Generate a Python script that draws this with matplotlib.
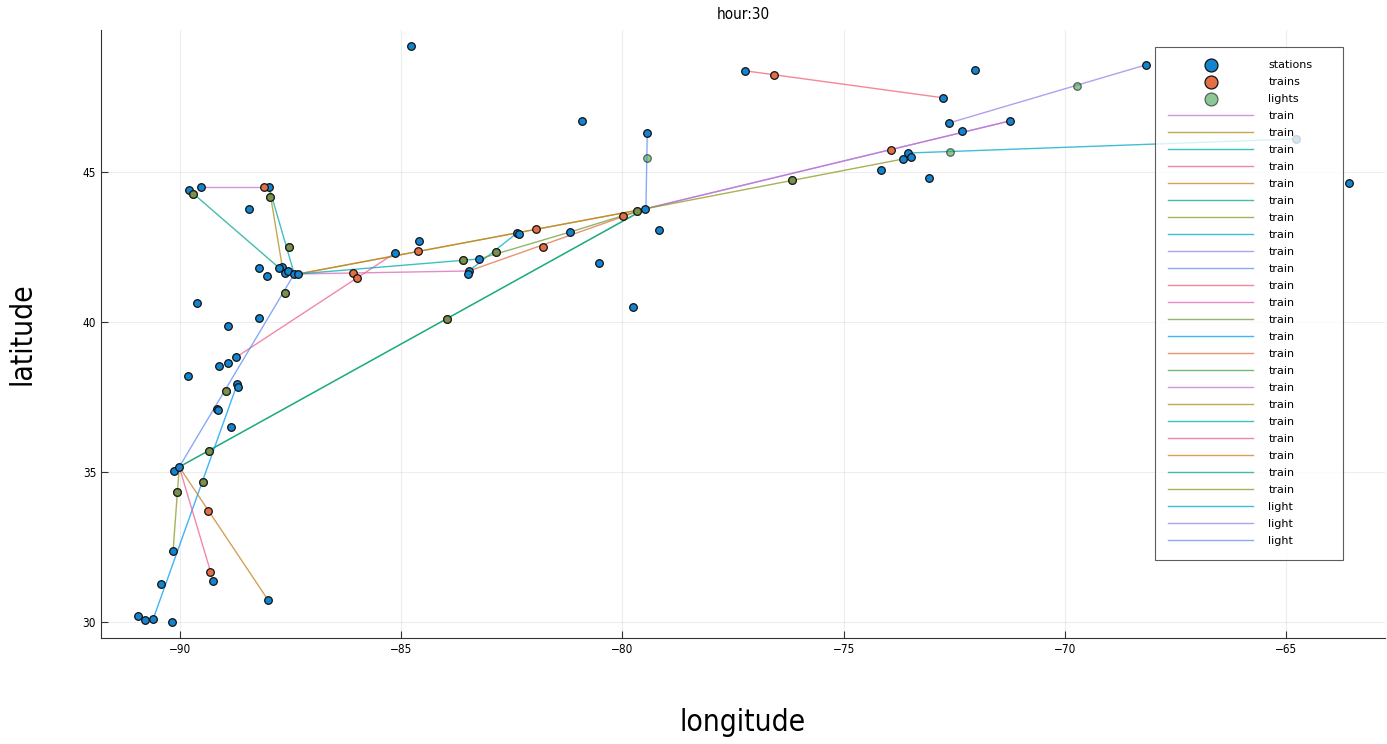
import matplotlib
matplotlib.use("Agg")
import matplotlib.pyplot as plt

# stations (lon, lat)
station_lon = [-84.78, -77.23, -72.03, -68.16, -72.75, -72.62, -72.32, -71.24, -80.91, -79.44,
               -63.58, -74.15, -73.07, -73.54, -73.66, -73.48, -64.77, -79.49, -79.17, -81.18,
               -80.53, -79.76, -82.38, -82.34, -83.24, -83.47, -83.49, -84.60, -85.14, -89.80,
               -89.53, -87.99, -88.44, -88.21, -88.03, -87.69, -87.63, -87.56, -87.42, -87.33,
               -87.76, -89.62, -88.21, -88.92, -88.73, -88.92, -89.12, -89.82, -88.71, -88.69,
               -89.16, -89.14, -88.85, -90.14, -90.02, -90.16, -89.25, -90.43, -88.01, -90.95,
               -90.79, -90.61, -90.18]
station_lat = [49.20, 48.37, 48.40, 48.57, 47.47, 46.63, 46.37, 46.70, 46.70, 46.30,
               44.63, 45.07, 44.80, 45.63, 45.43, 45.50, 46.10, 43.77, 43.07, 43.00,
               41.97, 40.50, 42.97, 42.93, 42.10, 41.70, 41.60, 42.70, 42.30, 44.40,
               44.50, 44.50, 43.77, 41.80, 41.53, 41.83, 41.63, 41.70, 41.60, 41.60,
               41.80, 40.63, 40.13, 39.87, 38.83, 38.63, 38.53, 38.20, 37.93, 37.83,
               37.10, 37.07, 36.50, 35.03, 35.17, 32.37, 31.37, 31.27, 30.73, 30.20,
               30.07, 30.10, 30.00]

# trains (lon, lat)
train_lon = [-76.57, -73.93, -88.10, -86.09, -86.00, -89.32, -84.62, -81.95, -81.79, -89.37,
             -79.99, -89.71, -87.97, -87.54, -87.63, -88.96, -89.34, -89.48, -90.07, -83.96,
             -83.60, -82.86, -79.67, -76.17]
train_lat = [48.23, 45.73, 44.50, 41.63, 41.47, 31.67, 42.37, 43.10, 42.50, 33.70,
             43.53, 44.27, 44.17, 42.50, 40.97, 37.70, 35.70, 34.67, 34.33, 40.10,
             42.07, 42.33, 43.70, 44.73]

# lights (lon, lat)
light_lon = [-72.60, -69.72, -79.44, -89.71, -87.97, -87.54, -87.63, -88.96, -89.34, -89.48,
             -90.07, -83.96, -83.60, -82.86, -79.67, -76.17]
light_lat = [45.67, 47.87, 45.47, 44.27, 44.17, 42.50, 40.97, 37.70, 35.70, 34.67,
             34.33, 40.10, 42.07, 42.33, 43.70, 44.73]

# train routes: (lons, lats)
train_routes = [
    ([-89.53, -87.99], [44.50, 44.50]),
    ([-87.33, -79.49], [41.60, 43.77]),
    ([-87.99, -87.42], [44.50, 41.60]),
    ([-88.73, -85.14], [38.83, 42.30]),
    ([-87.33, -79.49], [41.60, 43.77]),
    ([-89.80, -87.76], [44.40, 41.80]),
    ([-90.02, -90.16], [35.17, 32.37]),
    ([-83.47, -82.38], [41.70, 42.97]),
    ([-79.49, -71.24], [43.77, 46.70]),
    ([-90.02, -87.42], [35.17, 41.60]),
    ([-77.23, -72.75], [48.37, 47.47]),
    ([-87.33, -83.47], [41.60, 41.70]),
    ([-83.24, -81.18, -79.49], [42.10, 43.00, 43.77]),
    ([-90.61, -88.71], [30.10, 37.93]),
    ([-83.47, -79.49], [41.70, 43.77]),
    ([-90.02, -79.49], [35.17, 43.77]),
    ([-79.49, -71.24], [43.77, 46.70]),
    ([-87.99, -87.69], [44.50, 41.83]),
    ([-87.33, -83.24], [41.60, 42.10]),
    ([-90.02, -89.25], [35.17, 31.37]),
    ([-90.02, -88.01], [35.17, 30.73]),
    ([-90.02, -79.49], [35.17, 43.77]),
    ([-79.49, -73.66], [43.77, 45.43]),
]

# light routes
light_routes = [
    ([-73.54, -64.77], [45.63, 46.10]),
    ([-72.62, -68.16], [46.63, 48.57]),
    ([-79.47, -79.44], [43.77, 46.30]),
]

palette = ["#009AFA", "#E36F47", "#3EA44E", "#C371D2", "#AC8E18", "#00AAAE", "#ED5E93",
           "#C68225", "#00A98D", "#8E971E", "#00A8CB", "#9B7FE9", "#618DF6", "#F06073",
           "#DD65B5", "#6C9E38"]

cond = dict(family="DejaVu Sans", stretch="condensed")

fig = plt.figure(figsize=(13.87, 7.44), dpi=100)
ax = fig.add_axes([0.0728, 0.1425, 0.9258, 0.8172])

ax.scatter(station_lon, station_lat, s=30, c="#1584D0", edgecolors="#111111",
           linewidths=0.9, label="stations", zorder=3)
ax.scatter(train_lon, train_lat, s=30, c=palette[1], edgecolors="#111111",
           linewidths=0.9, label="trains", zorder=4)
ax.scatter(light_lon, light_lat, s=30, c=palette[2], edgecolors="#111111",
           linewidths=0.9, alpha=0.6, label="lights", zorder=5)

k = 3
for lons, lats in train_routes:
    ax.plot(lons, lats, color=palette[k % 16], lw=1.0, alpha=0.75, label="train", zorder=2)
    k += 1
for lons, lats in light_routes:
    ax.plot(lons, lats, color=palette[k % 16], lw=1.0, alpha=0.75, label="light", zorder=2)
    k += 1

ax.set_xlim(-91.79, -62.76)
ax.set_ylim(29.47, 49.73)
ax.set_xticks([-90, -85, -80, -75, -70, -65])
ax.set_yticks([30, 35, 40, 45])
ax.grid(True, color="#000000", alpha=0.07, lw=0.8)
ax.set_axisbelow(True)
for side in ["top", "right"]:
    ax.spines[side].set_visible(False)
for side in ["left", "bottom"]:
    ax.spines[side].set_color("#333333")
ax.tick_params(direction="in", length=5, width=0.8, labelsize=8.5, color="#333333")
for lab in ax.get_xticklabels() + ax.get_yticklabels():
    lab.set_fontstretch("condensed")

ax.set_title("hour:30", fontsize=11, pad=8, **cond)
ax.set_xlabel("longitude", fontsize=21.5, **cond)
ax.set_ylabel("latitude", fontsize=21.5, **cond)
ax.xaxis.set_label_coords(0.5, -0.115)
ax.yaxis.set_label_coords(-0.05, 0.5)

leg = ax.legend(loc="upper left", bbox_to_anchor=(0.8209, 0.0, 0.1464, 0.972),
                mode="expand", borderaxespad=0,
                fontsize=8, markerscale=1.7, handlelength=7.65, handletextpad=1.35,
                labelspacing=0.63, frameon=True, fancybox=False, borderpad=1.2)
leg.get_frame().set_edgecolor("#333333")
leg.get_frame().set_linewidth(0.8)
leg.set_zorder(10)

fig.savefig("out.png", dpi=100)
